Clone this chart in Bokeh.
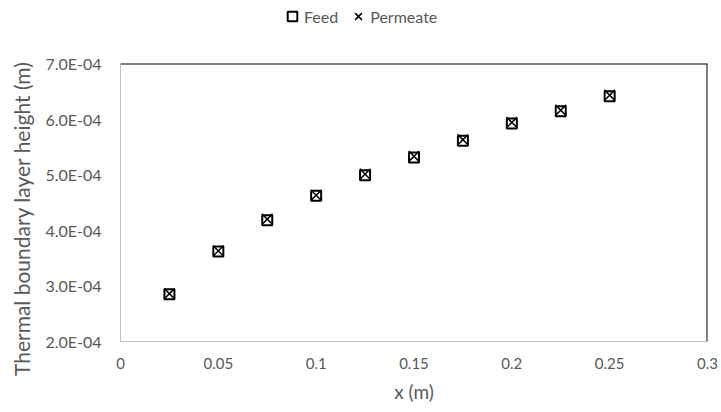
from bokeh.plotting import figure
from bokeh.layouts import column
from bokeh.models import (Range1d, FixedTicker, CustomJSTickFormatter, Span, Legend, LegendItem,
                          ColumnDataSource)
from bokeh.embed import file_html
from bokeh.resources import INLINE

# ---- data ----
x_pos = [0.025, 0.05, 0.075, 0.1, 0.125, 0.15, 0.175, 0.2, 0.225, 0.25]
feed = [2.85e-4, 3.62e-4, 4.18e-4, 4.62e-4, 4.99e-4, 5.31e-4, 5.61e-4, 5.92e-4, 6.14e-4, 6.41e-4]
permeate = [2.86e-4, 3.63e-4, 4.20e-4, 4.63e-4, 5.01e-4, 5.33e-4, 5.63e-4, 5.94e-4, 6.16e-4, 6.43e-4]
x_ticks = [0, 0.05, 0.1, 0.15, 0.2, 0.25, 0.3]
y_ticks = [2e-4, 3e-4, 4e-4, 5e-4, 6e-4, 7e-4]
series_names = ["Feed", "Permeate"]
x_label = "x (m)"
y_label = "Thermal boundary layer height (m)"

FONT = "Lato"
GRAY = "#595959"

src = ColumnDataSource(dict(x=x_pos, feed=feed, permeate=permeate))

# ---- main chart ----
p = figure(width=721, height=384, output_backend="svg", toolbar_location=None,
           x_range=Range1d(0, 0.3), y_range=Range1d(2e-4, 7e-4),
           min_border_left=120, min_border_right=14, min_border_top=35, min_border_bottom=71)
p.outline_line_color = None
p.grid.visible = False

p.xaxis.ticker = FixedTicker(ticks=x_ticks)
p.yaxis.ticker = FixedTicker(ticks=y_ticks)
p.xaxis.formatter = CustomJSTickFormatter(code="return parseFloat(tick.toFixed(4)).toString();")
p.yaxis.formatter = CustomJSTickFormatter(code="""
const s = tick.toExponential(1);
const parts = s.split('e');
const n = parseInt(parts[1]);
return parts[0] + 'E' + (n < 0 ? '-' : '+') + String(Math.abs(n)).padStart(2, '0');
""")
for ax in (p.xaxis[0], p.yaxis[0]):
    ax.axis_line_color = "#bfbfbf"
    ax.axis_line_width = 1
    ax.major_tick_line_color = None
    ax.minor_tick_line_color = None
    ax.major_label_text_font = FONT
    ax.major_label_text_color = GRAY
    ax.axis_label_text_font = FONT
    ax.axis_label_text_color = GRAY
    ax.axis_label_text_font_style = "normal"
p.xaxis.major_label_text_font_size = "15px"
p.yaxis.major_label_text_font_size = "16px"
p.xaxis.axis_label_text_font_size = "19px"
p.yaxis.axis_label_text_font_size = "21px"
p.xaxis.axis_label = x_label
p.yaxis.axis_label = y_label + "\u00a0" * 6
p.xaxis.major_label_standoff = 10
p.yaxis.major_label_standoff = 13
p.xaxis.axis_label_standoff = 8
p.yaxis.axis_label_standoff = 8

p.add_layout(Span(location=7e-4, dimension="width", line_color="black", line_width=2))
p.add_layout(Span(location=0.3, dimension="height", line_color="black", line_width=2))

p.scatter("x", "feed", source=src, marker="square", size=10, fill_color=None,
          line_color="black", line_width=2)
p.scatter("x", "permeate", source=src, marker="x", size=15,
          line_color="black", line_width=1.5)

# ---- legend strip above the chart (same series, out of its view) ----
lg = figure(width=721, height=28, output_backend="svg", toolbar_location=None,
            min_border=0, x_range=Range1d(1, 2), y_range=Range1d(0, 1))
lg.axis.visible = False
lg.grid.visible = False
lg.outline_line_color = None
g1 = lg.scatter("x", "feed", source=src, marker="square", size=10, fill_color=None,
                line_color="black", line_width=2)
g2 = lg.scatter("x", "permeate", source=src, marker="x", size=15,
                line_color="black", line_width=1.5)
legend = Legend(items=[LegendItem(label=series_names[0], renderers=[g1]),
                       LegendItem(label=series_names[1], renderers=[g2])],
                orientation="horizontal", location=(160, 0),
                padding=0, margin=0, spacing=8, glyph_width=24, glyph_height=24,
                label_standoff=0, border_line_color=None, background_fill_alpha=0,
                label_text_font=FONT, label_text_font_size="16px", label_text_color=GRAY)
lg.add_layout(legend, "center")

open("out.html", "w").write(file_html(column(lg, p, spacing=0), INLINE))
